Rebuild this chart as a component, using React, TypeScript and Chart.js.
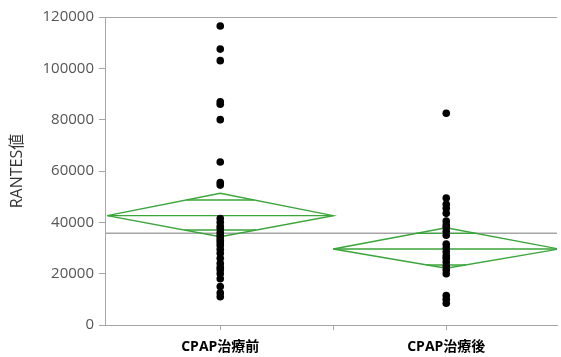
import React, { useEffect, useRef } from 'react';
import { Chart, registerables } from 'chart.js';

Chart.register(...registerables);

const categories = ['CPAP治療前', 'CPAP治療後'];
const beforeValues = [
  116500, 107500, 103000, 87000, 86000, 80000, 63500, 55500, 54500,
  41500, 40000, 38500, 37500, 36000, 35000, 34000, 33000, 32000, 31000,
  29500, 28000, 26000, 24000, 22500, 21500, 20000, 18000, 15000, 12500, 11000,
];
const afterValues = [
  82500, 49500, 47000, 45500, 43500, 40500, 39000, 38000, 36500, 35000,
  31500, 30000, 28500, 27000, 26000, 24500, 23000, 21500, 20000, 11500, 10000, 8500,
];
const groupMeans = [42600, 29600];
const ciUpper = [51300, 37900];
const ciLower = [34400, 22100];
const overlapUpper = [48700, 35700];
const overlapLower = [37000, 23400];
const grandMean = 35700;
const yTicks = [0, 20000, 40000, 60000, 80000, 100000, 120000];
const yTitle = 'RANTES値';

const FONT = "'Open Sans', 'Noto Sans CJK JP', sans-serif";
const GREEN = '#3aa53a';
const GRAY = '#a6a6a6';

function diamondSets(i: number) {
  const L = i, C = i + 0.5, R = i + 1;
  const m = groupMeans[i], u = ciUpper[i], l = ciLower[i];
  const hw = 0.5;
  const span = (v: number) => {
    const frac = v >= m ? (v - m) / (u - m) : (m - v) / (m - l);
    return hw * (1 - frac);
  };
  const base = {
    showLine: true,
    pointRadius: 0,
    borderColor: GREEN,
    borderWidth: 1.4,
    fill: false,
    tension: 0,
    order: 1,
  };
  const ou = overlapUpper[i], ol = overlapLower[i];
  return [
    { ...base, data: [{ x: L, y: m }, { x: C, y: u }, { x: R, y: m }, { x: C, y: l }, { x: L, y: m }] },
    { ...base, data: [{ x: L, y: m }, { x: R, y: m }] },
    { ...base, data: [{ x: C - span(ou), y: ou }, { x: C + span(ou), y: ou }] },
    { ...base, data: [{ x: C - span(ol), y: ol }, { x: C + span(ol), y: ol }] },
  ];
}

const topLine = {
  id: 'topLine',
  beforeDatasetsDraw(chart: any) {
    const { ctx, chartArea } = chart;
    ctx.save();
    ctx.strokeStyle = GRAY;
    ctx.lineWidth = 1;
    ctx.beginPath();
    ctx.moveTo(chartArea.left, chartArea.top + 0.5);
    ctx.lineTo(chartArea.right, chartArea.top + 0.5);
    ctx.stroke();
    ctx.restore();
  },
};

export default function App() {
  const ref = useRef<HTMLCanvasElement>(null);
  useEffect(() => {
    if (!ref.current) return;
    const datasets: any[] = [
      {
        data: beforeValues.map((v) => ({ x: 0.5, y: v })),
        pointRadius: 3.8,
        backgroundColor: '#000',
        borderWidth: 0,
        order: 0,
      },
      {
        data: afterValues.map((v) => ({ x: 1.5, y: v })),
        pointRadius: 3.8,
        backgroundColor: '#000',
        borderWidth: 0,
        order: 0,
      },
      ...diamondSets(0),
      ...diamondSets(1),
      {
        data: [{ x: -1, y: grandMean }, { x: 3, y: grandMean }],
        showLine: true,
        pointRadius: 0,
        borderColor: GRAY,
        borderWidth: 1.5,
        order: 2,
      },
    ];
    const chart = new Chart(ref.current, {
      type: 'scatter',
      data: { datasets },
      plugins: [topLine],
      options: {
        animation: false,
        responsive: false,
        layout: { padding: { top: 17, left: 0, right: 0, bottom: 0 } },
        plugins: { legend: { display: false }, tooltip: { enabled: false } },
        scales: {
          x: {
            type: 'linear',
            min: -0.01,
            max: 1.99,
            afterBuildTicks: (s: any) => {
              s.ticks = [{ value: 0.5 }, { value: 1 }, { value: 1.5 }];
            },
            afterFit: (s: any) => {
              s.height = 32;
            },
            ticks: {
              autoSkip: false,
              maxRotation: 0,
              padding: 9,
              color: '#000',
              font: { family: FONT, size: 14, weight: 'bold' },
              callback: (v: any) => (v === 0.5 ? categories[0] : v === 1.5 ? categories[1] : ''),
            },
            grid: { drawOnChartArea: false, drawTicks: true, tickLength: 5, color: GRAY },
            border: { color: GRAY, width: 1 },
          },
          y: {
            type: 'linear',
            min: 0,
            max: 120000,
            afterBuildTicks: (s: any) => {
              s.ticks = yTicks.map((v) => ({ value: v }));
            },
            afterFit: (s: any) => {
              s.width = 105;
            },
            ticks: {
              padding: 5,
              color: '#555',
              font: { family: FONT, size: 15 },
              callback: (v: any) => String(v),
            },
            grid: { drawOnChartArea: false, drawTicks: true, tickLength: 6, color: GRAY },
            border: { color: GRAY, width: 1 },
            title: {
              display: true,
              text: yTitle,
              color: '#333',
              font: { family: FONT, size: 16 },
              padding: { top: 8, bottom: 0 },
            },
          },
        },
      },
    });
    return () => chart.destroy();
  }, []);
  return (
    <div style={{ position: 'fixed', left: 0, top: 0, width: 561, height: 357, overflow: 'hidden', background: '#fff' }}>
      <canvas ref={ref} width={561} height={357} style={{ display: 'block' }} />
    </div>
  );
}
